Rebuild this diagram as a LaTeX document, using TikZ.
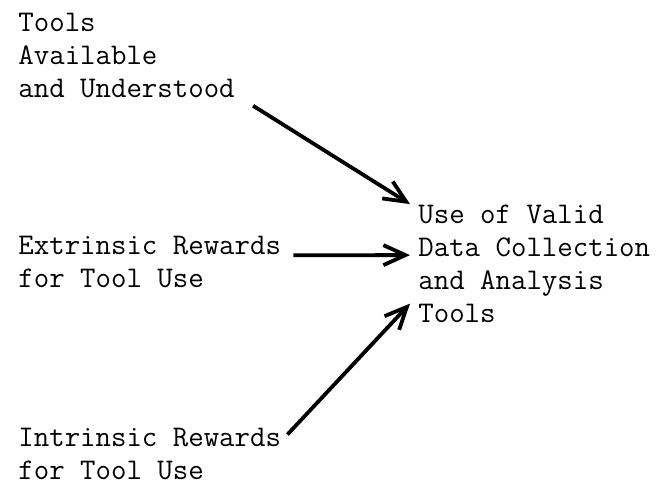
\documentclass[tikz,border=0pt]{standalone}
\usepackage{tikz}
\usetikzlibrary{arrows.meta}

\begin{document}
\begin{tikzpicture}[x=0.5pt,y=-0.5pt,>={Straight Barb[length=11pt,width=10pt]},
    lbl/.style={inner sep=0pt,align=left,anchor=base west,
      font=\fontsize{15}{16.5}\selectfont\ttfamily},
    arr/.style={->,line width=1.9pt}]
        \useasboundingbox (0,0) rectangle (666,489);
        \node[lbl] (avail) at (18,97) {Tools\\Available\\and Understood}; % verf"ugbar
        \node[lbl] (extr) at (18,287) {Extrinsic Rewards\\for Tool Use}; % extrinsisch
        \node[lbl] (intr) at (18,479) {Intrinsic Rewards\\for Tool Use}; % intrinsisch
        \node[lbl] (use) at (418,322) {Use of Valid\\Data Collection\\and Analysis\\Tools}; % ziel
        \draw[arr] ([shift={(18,8)}]avail.south east) -- ([shift={(-8,0)}]use.north west);
        \draw[arr] ([shift={(12,20)}]extr.north east) -- ([shift={(-8,51)}]use.north west);
        \draw[arr] ([shift={(6,-19)}]intr.east) -- ([shift={(-8,-19)}]use.south west);
    \end{tikzpicture}
\end{document}
